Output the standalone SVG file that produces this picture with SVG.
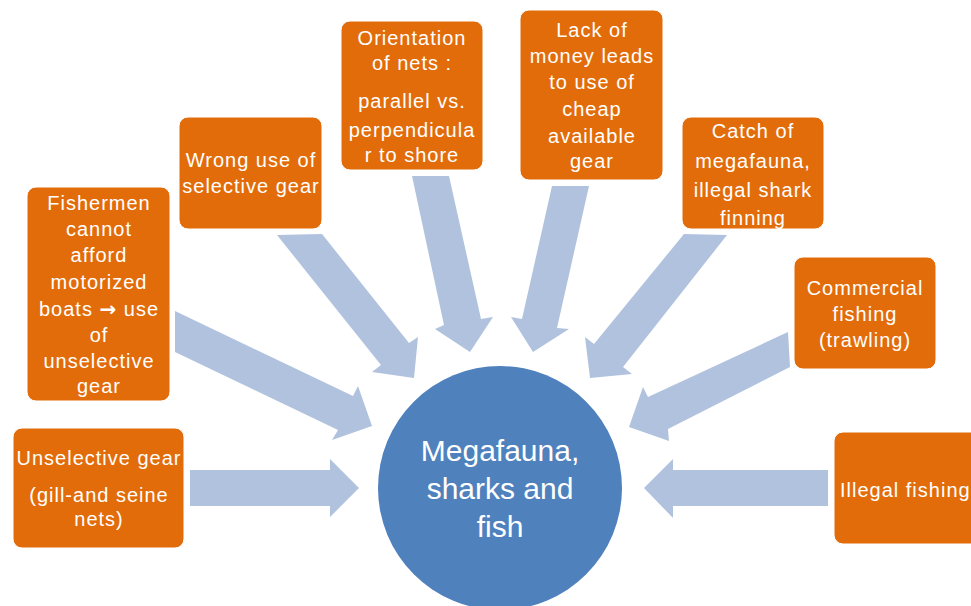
<svg xmlns="http://www.w3.org/2000/svg" width="971" height="606" viewBox="0 0 971 606">
  <style>
    .box { fill: #E36C0A; stroke: #FFFFFF; stroke-width: 1; }
    .arrow { fill: #B0C2DE; }
    .lbl { font-family: "Liberation Sans", Arial, sans-serif; font-size: 20px; fill: #FFFFFF; text-anchor: middle; letter-spacing: 1px; }
    .sym { font-family: "DejaVu Sans", sans-serif; font-weight: bold; }
    .hub { fill: #4F81BD; }
    .hubtxt { font-family: "Liberation Sans", Arial, sans-serif; font-size: 30px; fill: #FFFFFF; text-anchor: middle; }
  </style>
  <rect width="971" height="606" fill="#FFFFFF"/>

  <!-- block arrows pointing toward the hub -->
  <g id="connectors">
    <polygon class="arrow" points="190,470 330,470 330,459 359,488 330,517 330,506 190,506"/>
    <polygon class="arrow" points="175,311 353,396 358,386 372,426 332,440 338,430 175,352"/>
    <polygon class="arrow" points="277,235 322,234 409,343 418,337 414,378 372,372 381,365"/>
    <polygon class="arrow" points="412,176 449,176 481,319 493,317 470,352 435,329 444,325"/>
    <polygon class="arrow" points="552,186 589,186 557,328 569,329 533,352 511,317 522,319"/>
    <polygon class="arrow" points="684,234 727,235 623,367 632,374 590,378 585,337 594,344"/>
    <polygon class="arrow" points="788,332 790,367 668,429 669,441 629,427 643,387 648,397"/>
    <polygon class="arrow" points="828,470 673,470 673,459 644,488 673,518 673,506 828,506"/>
  </g>

  <g id="hub">
    <circle class="hub" cx="500" cy="488" r="122"/>
    <text class="hubtxt" x="500" y="461">Megafauna,</text>
    <text class="hubtxt" x="500" y="499">sharks and</text>
    <text class="hubtxt" x="500" y="537">fish</text>
  </g>

  <g id="unselective-gear">
    <rect class="box" x="13" y="428" width="171" height="120" rx="9"/>
    <text class="lbl" x="99" y="465">Unselective gear</text>
    <text class="lbl" x="99" y="502">(gill-and seine</text>
    <text class="lbl" x="99" y="526">nets)</text>
  </g>

  <g id="fishermen">
    <rect class="box" x="27" y="187" width="143" height="214" rx="9"/>
    <text class="lbl" x="99" y="210">Fishermen</text>
    <text class="lbl" x="99" y="236">cannot</text>
    <text class="lbl" x="99" y="262">afford</text>
    <text class="lbl" x="99" y="289">motorized</text>
    <text class="lbl" x="99" y="316">boats <tspan class="sym">→</tspan> use</text>
    <text class="lbl" x="99" y="342">of</text>
    <text class="lbl" x="99" y="368">unselective</text>
    <text class="lbl" x="99" y="393">gear</text>
  </g>

  <g id="wrong-use">
    <rect class="box" x="179" y="117" width="143" height="112" rx="9"/>
    <text class="lbl" x="251" y="167">Wrong use of</text>
    <text class="lbl" x="251" y="193">selective gear</text>
  </g>

  <g id="orientation">
    <rect class="box" x="341" y="21" width="142" height="149" rx="9"/>
    <text class="lbl" x="412" y="45">Orientation</text>
    <text class="lbl" x="412" y="70">of nets :</text>
    <text class="lbl" x="412" y="108">parallel vs.</text>
    <text class="lbl" x="412" y="137">perpendicula</text>
    <text class="lbl" x="412" y="162">r to shore</text>
  </g>

  <g id="lack-of-money">
    <rect class="box" x="520" y="10" width="143" height="170" rx="9"/>
    <text class="lbl" x="592" y="37">Lack of</text>
    <text class="lbl" x="592" y="63">money leads</text>
    <text class="lbl" x="592" y="89">to use of</text>
    <text class="lbl" x="592" y="116">cheap</text>
    <text class="lbl" x="592" y="143">available</text>
    <text class="lbl" x="592" y="168">gear</text>
  </g>

  <g id="catch-of-megafauna">
    <rect class="box" x="682" y="117" width="142" height="112" rx="9"/>
    <text class="lbl" x="753" y="138">Catch of</text>
    <text class="lbl" x="753" y="168">megafauna,</text>
    <text class="lbl" x="753" y="197">illegal shark</text>
    <text class="lbl" x="753" y="225">finning</text>
  </g>

  <g id="commercial-fishing">
    <rect class="box" x="794" y="257" width="142" height="112" rx="9"/>
    <text class="lbl" x="865" y="295">Commercial</text>
    <text class="lbl" x="865" y="321">fishing</text>
    <text class="lbl" x="865" y="347">(trawling)</text>
  </g>

  <g id="illegal-fishing">
    <rect class="box" x="834" y="432" width="150" height="112" rx="9"/>
    <text class="lbl" x="840" y="497" style="text-anchor:start">Illegal fishing</text>
  </g>
</svg>
